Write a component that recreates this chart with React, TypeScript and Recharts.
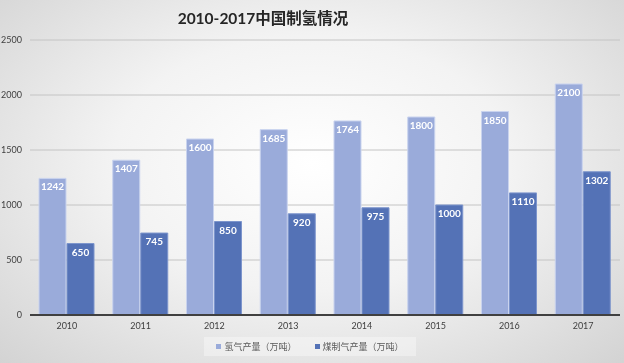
import { Bar, BarChart, CartesianGrid, LabelList, Legend, XAxis, YAxis } from 'recharts'

const years = ['2010', '2011', '2012', '2013', '2014', '2015', '2016', '2017']
const hydrogenOutput = [1242, 1407, 1600, 1685, 1764, 1800, 1850, 2100]
const coalHydrogen = [650, 745, 850, 920, 975, 1000, 1110, 1302]
const yTicks = [0, 500, 1000, 1500, 2000, 2500]

const LIGHT = '#9aabda'
const DARK = '#5472b6'
const FONT = "Lato, 'Noto Sans CJK SC', sans-serif"

const data = years.map((year, i) => ({
  year,
  hydrogen: hydrogenOutput[i],
  coal: coalHydrogen[i],
}))

function LegendBox() {
  const items = [
    { label: '氢气产量（万吨）', color: LIGHT },
    { label: '煤制气产量（万吨）', color: DARK },
  ]
  return (
    <div style={{ display: 'flex', justifyContent: 'center' }}>
      <div
        style={{
          display: 'flex',
          gap: 18,
          padding: '3px 12px',
          background: 'rgba(255,255,255,0.35)',
          fontFamily: FONT,
          fontSize: 9,
          color: '#595959',
        }}
      >
        {items.map((it) => (
          <span key={it.label} style={{ display: 'flex', alignItems: 'center' }}>
            <span style={{ width: 5, height: 5, background: it.color, marginRight: 3 }} />
            {it.label}
          </span>
        ))}
      </div>
    </div>
  )
}

export default function App() {
  return (
    <div
      style={{
        position: 'fixed',
        left: 0,
        top: 0,
        width: 624,
        height: 363,
        background: 'radial-gradient(ellipse at 50% 45%, #ffffff 0%, #f3f3f3 45%, #d3d3d3 100%)',
      }}
    >
      <div
        style={{
          position: 'absolute',
          top: 6,
          left: 0,
          width: 526,
          textAlign: 'center',
          fontFamily: FONT,
          fontWeight: 700,
          fontSize: 15.5,
          color: '#262626',
        }}
      >
        2010-2017中国制氢情况
      </div>
      <BarChart
        width={624}
        height={363}
        data={data}
        margin={{ top: 40, right: 4, left: 0, bottom: 0 }}
        barCategoryGap={9}
        barGap={1}
      >
        <CartesianGrid vertical={false} stroke="#c4c4c4" />
        <XAxis
          dataKey="year"
          height={22}
          tickLine={false}
          axisLine={{ stroke: '#404040', strokeWidth: 2 }}
          tick={{ fill: '#404040', fontSize: 9, fontFamily: FONT }}
        />
        <YAxis
          width={30}
          domain={[0, 2500]}
          ticks={yTicks}
          tickLine={false}
          axisLine={false}
          tick={{ fill: '#404040', fontSize: 9, fontFamily: FONT }}
        />
        <Legend verticalAlign="bottom" height={26} content={<LegendBox />} />
        <Bar dataKey="hydrogen" name="氢气产量（万吨）" fill={LIGHT} stroke="#c9d3ee" isAnimationActive={false}>
          <LabelList
            dataKey="hydrogen"
            position="insideTop"
            offset={5}
            fill="#ffffff"
            fontSize={10}
            fontWeight={700}
            fontFamily={FONT}
          />
        </Bar>
        <Bar dataKey="coal" name="煤制气产量（万吨）" fill={DARK} stroke="#7d95cc" isAnimationActive={false}>
          <LabelList
            dataKey="coal"
            position="insideTop"
            offset={5}
            fill="#ffffff"
            fontSize={10}
            fontWeight={700}
            fontFamily={FONT}
          />
        </Bar>
      </BarChart>
    </div>
  )
}
